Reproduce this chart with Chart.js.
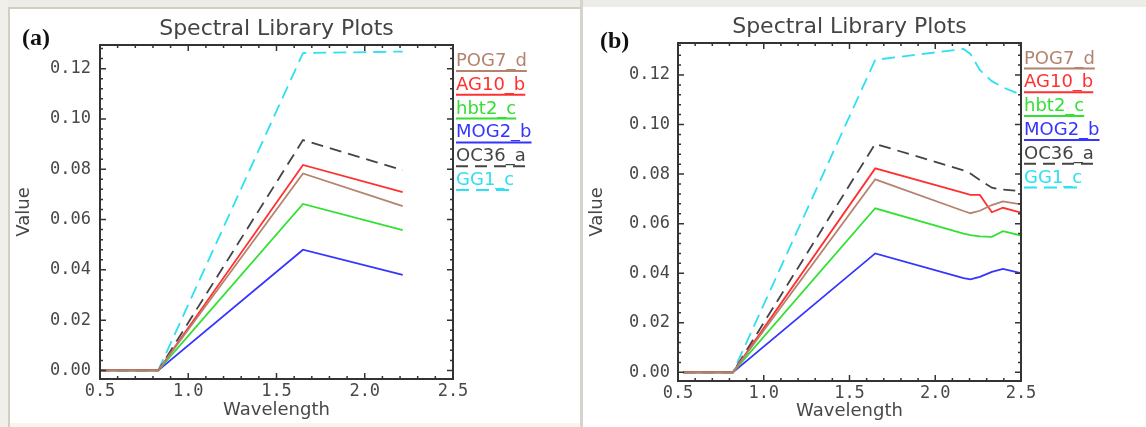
<!DOCTYPE html>
<html><head><meta charset="utf-8">
<script src="https://cdn.jsdelivr.net/npm/chart.js@4.4.1/dist/chart.umd.min.js"></script>
<style>
html,body{margin:0;padding:0;background:#fff;width:1146px;height:427px;overflow:hidden;position:relative}
.bg{position:absolute}
.cv{position:absolute;top:0;width:573px;height:427px}
</style>
</head><body>
<div class="bg" style="left:0;top:0;width:1146px;height:7px;background:#eeece6"></div>
<div class="bg" style="left:0;top:0;width:8px;height:427px;background:#f0efea"></div>
<div class="bg" style="left:8px;top:7px;width:575px;height:2px;background:#d2cec4"></div>
<div class="bg" style="left:8px;top:7px;width:2px;height:420px;background:#d2cec4"></div>
<div class="bg" style="left:580px;top:0;width:3px;height:427px;background:#d6d3ca"></div>
<div class="bg" style="left:10px;top:423px;width:570px;height:4px;background:#f7f5ec"></div>
<canvas id="chartA" class="cv" style="left:0" width="573" height="427"></canvas>
<canvas id="chartB" class="cv" style="left:573px" width="573" height="427"></canvas>
<script>
// ---------- data ----------
const seriesNames = ['POG7_d', 'AG10_b', 'hbt2_c', 'MOG2_b', 'OC36_a', 'GG1_c'];
const xTickValues = [0.5, 1.0, 1.5, 2.0, 2.5];
const yTickValues = [0.00, 0.02, 0.04, 0.06, 0.08, 0.10, 0.12];

// panel (a)
const wavelengthA = [0.485, 0.56, 0.66, 0.83, 1.65, 2.215];
const pog7dA = [0, 0, 0, 0, 0.0783, 0.0653];
const ag10bA = [0, 0, 0, 0, 0.0817, 0.0709];
const hbt2cA = [0, 0, 0, 0, 0.0662, 0.0558];
const mog2bA = [0, 0, 0, 0, 0.0480, 0.0380];
const oc36aA = [0, 0, 0, 0, 0.0916, 0.0796];
const gg1cA  = [0, 0, 0, 0, 0.1262, 0.1268];

// panel (b)
const wavelengthB = [0.53, 0.66, 0.82, 1.65, 2.165, 2.205, 2.26, 2.33, 2.395, 2.5];
const pog7dB = [0, 0, 0, 0.0779, 0.0651, 0.0642, 0.0652, 0.0675, 0.0690, 0.0678];
const ag10bB = [0, 0, 0, 0.0823, 0.0724, 0.0716, 0.0716, 0.0646, 0.0664, 0.0644];
const hbt2cB = [0, 0, 0, 0.0662, 0.0560, 0.0554, 0.0549, 0.0547, 0.0570, 0.0552];
const mog2bB = [0, 0, 0, 0.0480, 0.0380, 0.0375, 0.0385, 0.0405, 0.0417, 0.0400];
const oc36aB = [0, 0, 0, 0.0922, 0.0815, 0.0802, 0.0776, 0.0745, 0.0737, 0.0732];
const gg1cB  = [0, 0, 0, 0.1261, 0.1305, 0.1285, 0.1220, 0.1175, 0.1150, 0.1120];

// ---------- style ----------
const seriesStyle = [
  {color: '#b4826e', dash: []},
  {color: '#ff3030', dash: []},
  {color: '#33e033', dash: []},
  {color: '#3535ff', dash: []},
  {color: '#444444', dash: [12, 7]},
  {color: '#2ee0f0', dash: [13, 7]}
];

function buildDatasets(wl, arrays) {
  return arrays.map((vals, i) => ({
    label: seriesNames[i],
    data: wl.map((w, k) => ({x: w, y: vals[k]})),
    borderColor: seriesStyle[i].color,
    backgroundColor: seriesStyle[i].color,
    borderDash: seriesStyle[i].dash,
    borderWidth: 1.8,
    pointRadius: 0,
    tension: 0,
    fill: false
  }));
}

const idlPlugin = {
  id: 'idl',
  afterDatasetsDraw(chart, args, o) {
    const {ctx, chartArea: a, scales: {x, y}} = chart;
    ctx.save();
    // frame
    ctx.strokeStyle = '#333';
    ctx.lineWidth = 2;
    ctx.setLineDash([]);
    ctx.strokeRect(a.left, a.top, a.right - a.left, a.bottom - a.top);
    ctx.lineWidth = 1.5;
    const vline = (v, len) => {
      const p = x.getPixelForValue(v);
      ctx.beginPath();
      ctx.moveTo(p, a.bottom); ctx.lineTo(p, a.bottom - len);
      ctx.moveTo(p, a.top); ctx.lineTo(p, a.top + len);
      ctx.stroke();
    };
    const hline = (v, len) => {
      const p = y.getPixelForValue(v);
      ctx.beginPath();
      ctx.moveTo(a.left, p); ctx.lineTo(a.left + len, p);
      ctx.moveTo(a.right, p); ctx.lineTo(a.right - len, p);
      ctx.stroke();
    };
    const xs = (xTickValues[1] - xTickValues[0]) / 5;
    for (let v = x.min; v <= x.max + 1e-9; v += xs) {
      const isMajor = xTickValues.some(t => Math.abs(t - v) < 1e-6);
      vline(v, isMajor ? 6 : 3);
    }
    const ys = (yTickValues[1] - yTickValues[0]) / 5;
    let start = yTickValues[0];
    while (start - ys >= y.min) start -= ys;
    for (let v = start; v <= y.max + 1e-9; v += ys) {
      const isMajor = yTickValues.some(t => Math.abs(t - v) < 1e-6);
      hline(v, isMajor ? 6 : 3);
    }
    // legend (text + line sample underline)
    ctx.font = '18px "DejaVu Sans"';
    ctx.textBaseline = 'alphabetic';
    ctx.textAlign = 'left';
    chart.data.datasets.forEach((ds, i) => {
      const lx = a.right + 3;
      const by = a.top + o.legendTop + i * 23.8;
      ctx.fillStyle = ds.borderColor;
      ctx.fillText(ds.label, lx, by);
      const w = ctx.measureText(ds.label).width;
      ctx.strokeStyle = ds.borderColor;
      ctx.lineWidth = 2;
      ctx.setLineDash(ds.borderDash);
      ctx.beginPath();
      ctx.moveTo(lx, by + 5); ctx.lineTo(lx + w, by + 5);
      ctx.stroke();
    });
    ctx.setLineDash([]);
    // panel label
    ctx.font = 'bold 24px "Liberation Serif"';
    ctx.fillStyle = '#111';
    ctx.fillText(o.panel, o.panelX, o.panelY);
    ctx.restore();
  }
};

function makeChart(id, wl, arrays, g) {
  return new Chart(document.getElementById(id), {
    type: 'line',
    data: {datasets: buildDatasets(wl, arrays)},
    plugins: [idlPlugin],
    options: {
      responsive: false,
      animation: false,
      events: [],
      layout: {padding: {left: 8, right: g.padRight, top: 0, bottom: 0}},
      plugins: {
        legend: {display: false},
        tooltip: {enabled: false},
        title: {
          display: true,
          text: 'Spectral Library Plots',
          fullSize: false,
          color: '#444',
          font: {family: 'DejaVu Sans', size: 22, weight: 'normal', lineHeight: 1.2},
          padding: {top: g.titleTop, bottom: g.titleBottom}
        },
        idl: {legendTop: g.legendTop, panel: g.panel, panelX: g.panelX, panelY: g.panelY}
      },
      scales: {
        x: {
          type: 'linear',
          min: 0.5, max: 2.5,
          grid: {display: false, drawTicks: false},
          border: {display: false},
          afterBuildTicks: s => { s.ticks = xTickValues.map(v => ({value: v})); },
          afterFit: s => { s.height = g.xHeight; },
          ticks: {
            padding: 2, maxRotation: 0, autoSkip: false, color: '#484848',
            font: {family: 'DejaVu Sans Mono', size: 17},
            callback: v => Number(v).toFixed(1)
          },
          title: {display: true, text: 'Wavelength', color: '#484848',
            font: {family: 'DejaVu Sans', size: 18}, padding: {top: 0, bottom: g.xTitleBottom}}
        },
        y: {
          type: 'linear',
          min: g.yMin, max: g.yMax,
          grid: {display: false, drawTicks: false},
          border: {display: false},
          afterBuildTicks: s => { s.ticks = yTickValues.map(v => ({value: v})); },
          afterFit: s => { s.width = g.yWidth; },
          ticks: {
            padding: g.yTickPad, color: '#484848',
            font: {family: 'DejaVu Sans Mono', size: 17},
            callback: v => Number(v).toFixed(2)
          },
          title: {display: true, text: 'Value', color: '#484848',
            font: {family: 'DejaVu Sans', size: 18}, padding: {top: 6, bottom: 0}}
        }
      }
    }
  });
}

makeChart('chartA', wavelengthA, [pog7dA, ag10bA, hbt2cA, mog2bA, oc36aA, gg1cA], {
  padRight: 120, yWidth: 92, xHeight: 48, titleTop: 16.5, titleBottom: 2.1,
  yMin: -0.0034, yMax: 0.1294, yTickPad: 9, xTitleBottom: 6,
  legendTop: 21, panel: '(a)', panelX: 22, panelY: 45
});
makeChart('chartB', wavelengthB, [pog7dB, ag10bB, hbt2cB, mog2bB, oc36aB, gg1cB], {
  padRight: 125, yWidth: 97, xHeight: 46, titleTop: 14.2, titleBottom: 2.4,
  yMin: -0.0035, yMax: 0.1329, yTickPad: 8, xTitleBottom: 5,
  legendTop: 20.5, panel: '(b)', panelX: 27, panelY: 48
});
</script>
</body></html>
